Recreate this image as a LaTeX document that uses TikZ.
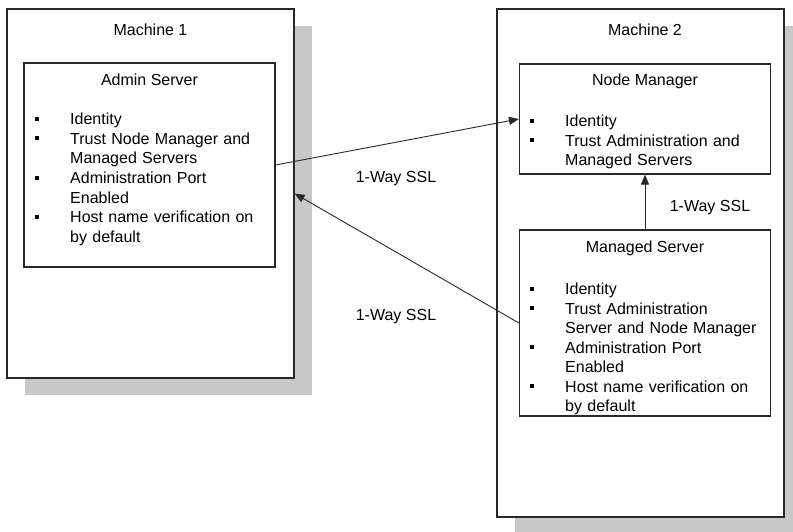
\documentclass[tikz,border=0pt]{standalone}
\usepackage{fontspec}
\setmainfont{Liberation Sans}
\usetikzlibrary{arrows.meta,shadows,positioning}
\definecolor{shadowgray}{RGB}{200,200,200}
\definecolor{linegray}{RGB}{40,40,40}
\setlength{\parskip}{0pt}
\newcommand{\bitem}[1]{\par\noindent\strut\makebox[35pt][l]{\raisebox{3.8pt}{\rule{4pt}{4pt}}}#1}
\newcommand{\bline}[1]{\par\noindent\strut\hspace*{35pt}#1}
\tikzset{
  machine/.style={draw=linegray, line width=1.2pt, fill=white, minimum width=287pt,
    drop shadow={shadow xshift=18pt, shadow yshift=-17pt, fill=shadowgray, opacity=1}},
  server/.style={draw=linegray, line width=1.2pt, fill=white, minimum width=251pt},
  boxtitle/.style={font=\fontsize{16}{19.7}\selectfont},
  itemlist/.style={anchor=north west, inner sep=0pt, text width=240pt, align=left,
    font=\fontsize{16}{19.7}\selectfont},
  link/.style={-{Triangle[length=10pt,width=8pt]}, line width=0.9pt, draw=linegray},
}
\begin{document}
\begin{tikzpicture}[x=1pt,y=-1pt]
\clip (0,0) rectangle (793,532);
\node[machine, minimum height=369pt] (m1) at (150.5,193.5) {};
\node[machine, minimum height=508pt] (m2) at (640.5,263) {};
\node[server, minimum height=204pt] (admin) at (149.5,165) {};
\node[server, minimum height=110pt] (nm) at (645,119) {};
\node[server, minimum height=186pt] (ms) at (645,323) {};
\node[boxtitle] (t1) at (150.5,30) {Machine 1};
\node[boxtitle] (t2) at (645,30) {Machine 2};
\node[boxtitle] (tadmin) at (149.5,80) {Admin Server};
\node[boxtitle] (tnm) at (645,81) {Node Manager};
\node[boxtitle] (tms) at (645,248) {Managed Server};
\node[itemlist] (ladmin) at (35,104.5) {\bitem{Identity}\bitem{Trust Node Manager and}\bline{Managed Servers}\bitem{Administration Port}\bline{Enabled}\bitem{Host name verification on}\bline{by default}};
\node[itemlist] (lnm) at (530,106.5) {\bitem{Identity}\bitem{Trust Administration and}\bline{Managed Servers}};
\node[itemlist, font=\fontsize{16}{19.5}\selectfont] (lms) at (530,275) {\bitem{Identity}\bitem{Trust Administration}\bline{Server and Node Manager}\bitem{Administration Port}\bline{Enabled}\bitem{Host name verification on}\bline{by default}};
\draw[link] (admin.east) -- (nm.west);
\draw[link] (ms.west) -- (m1.east);
\draw[link] (ms.north) -- (nm.south);
\node[boxtitle] (ssl1) at (396,179) {1-Way SSL};
\node[boxtitle] (ssl2) at (396,317) {1-Way SSL};
\node[boxtitle] (ssl3) at (710,208) {1-Way SSL};
\end{tikzpicture}
\end{document}
